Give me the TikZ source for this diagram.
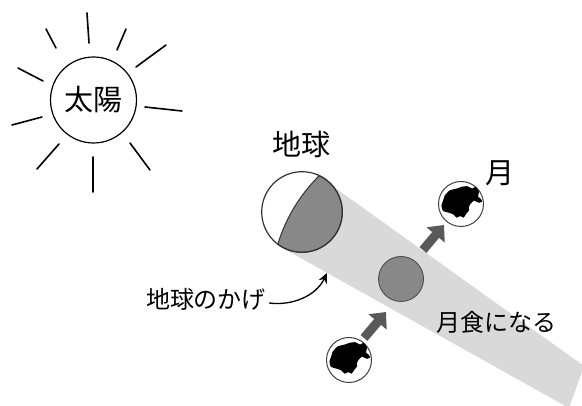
\documentclass[tikz,border=0pt]{standalone}
\usepackage{fontspec}
\newfontfamily\jp{Noto Sans CJK JP}
\usetikzlibrary{arrows.meta}
\definecolor{shadowgray}{HTML}{D9D9D9}
\definecolor{darkpart}{HTML}{888888}
\definecolor{arrowgray}{HTML}{595959}
\begin{document}
\begin{tikzpicture}[x=1pt,y=-1pt,
  ray/.style={line width=1.6pt,line cap=round},
  bigtext/.style={font=\jp\fontsize{29}{29}\selectfont,inner sep=0pt},
  smalltext/.style={font=\jp\fontsize{24}{24}\selectfont,inner sep=0pt},
  moonbody/.style={circle,draw=black!75,line width=1pt,fill=white,minimum size=45pt,inner sep=0pt},
  blockarrow/.style={draw=arrowgray,line width=9pt,-{Triangle[length=13pt,width=23pt]}}]
\useasboundingbox (0,0) rectangle (582,406);
% sun
\node[circle,draw,line width=1.2pt,minimum size=86pt,inner sep=0pt,
  font=\jp\fontsize{29}{29}\selectfont] (sun) at (93.5,100) {太陽};
\foreach \xa/\ya/\xb/\yb in {87/13/89/43, 126/29/117/50, 166/45/136/67,
  145/107/182/111, 130/143/150/170, 93/157/93/192, 59/144/37/169,
  42/117/12/125, 43/81/18/68, 56/48/46/29}
  \draw[ray] (\xa,\ya) -- (\xb,\yb);
% shadow of the earth
\fill[shadowgray] (324.5,180.3) -- (584,366) -- (569,408) -- (279,246) -- cycle;
% earth
\coordinate (earth) at (302,212);
\path (earth) ++(-64.6:40.3) coordinate (termtop);
\fill[white] (earth) circle[radius=40.3];
\fill[darkpart] (termtop) arc[start angle=-64.6,end angle=126.9,radius=40.3]
  .. controls (285.9,217.8) and (299.8,195) .. (termtop);
\draw[black!80,line width=1pt] (termtop) arc[start angle=-64.6,end angle=126.9,radius=40.3]
  .. controls (285.9,217.8) and (299.8,195) .. (termtop);
\draw[black!80,line width=1.2pt] (earth) circle[radius=40.3];
% moons
\node[circle,draw=black!70,fill=darkpart,line width=0.9pt,minimum size=45pt,inner sep=0pt] (eclipse) at (401,279) {};
\node[moonbody] (moonA) at (349,360) {};
\node[moonbody] (moonB) at (461,204) {};
\foreach \m in {moonA,moonB}
  \fill[shift={(\m)},scale=1.03] plot[smooth cycle,tension=0.3] coordinates {
    (-19,1.7) (-16.5,-6) (-15.8,-8.3) (-10.8,-13.3) (-4.2,-15) (0.8,-16.7) (5.8,-17.3)
    (10.8,-15) (14.2,-16.7) (17.5,-11.7) (16.5,-7.5) (19.2,-5) (20.5,-2.5) (17.5,-1.2)
    (12.5,-3.3) (9.2,0) (7.5,3.3) (8,6) (5.2,9.3) (2.5,13.3) (-0.8,11.7)
    (-4.2,13.3) (-7.5,10) (-12.5,8.3) (-17.5,6.7)};
% arrows
\coordinate (a1s) at (364,338);
\coordinate (a1e) at (386,312);
\coordinate (a2s) at (423,250);
\coordinate (a2e) at (444,225);
\draw[blockarrow] (a1s) -- (a1e);
\draw[blockarrow] (a2s) -- (a2e);
% labels
\node[bigtext] (earthlabel) at (301.7,144) {地球};
\node[bigtext] (moonlabel) at (500,173) {月};
\node[smalltext] (eclipselabel) at (496,322) {月食になる};
\node[smalltext] (kage) at (206,299) {地球のかげ};
\coordinate (kagetip) at (327,273);
\draw[line width=1.3pt,-{Stealth[length=10pt,width=9pt]}] ([shift={(3,4)}]kage.east)
  .. controls (292,306) and (316,296) .. (kagetip);
\end{tikzpicture}
\end{document}
